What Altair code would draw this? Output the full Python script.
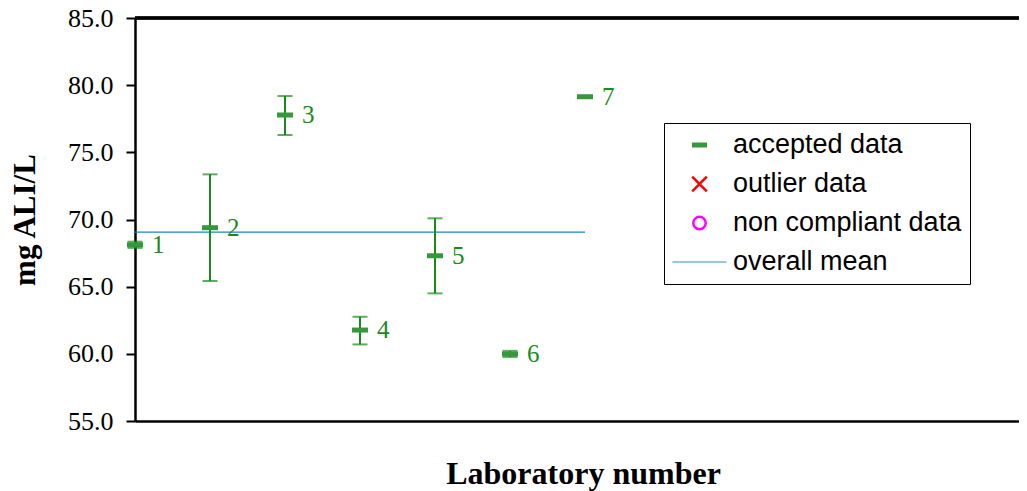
import altair as alt
import pandas as pd

# ---- data ----
labs = [1, 2, 3, 4, 5, 6, 7]
lab_names = ["1", "2", "3", "4", "5", "6", "7"]
means = [68.12, 69.39, 77.78, 61.77, 67.30, 59.99, 79.14]
lows = [67.89, 65.42, 76.29, 60.70, 64.50, 59.77, 79.14]
highs = [68.35, 73.36, 79.19, 62.76, 70.09, 60.22, 79.14]
overall_mean = 69.06
mean_from, mean_to = 1, 7
y_ticks = [55, 60, 65, 70, 75, 80, 85]
series_names = ["accepted data", "outlier data", "non compliant data", "overall mean"]

# ---- styles ----
series_colors = ["#35983a", "#ff0000", "#ff00ff", "#2a8fd0"]
bar_green = "#168c16"
text_green = "#1a8a1a"
mean_blue = "#1a86c8"
serif = "Liberation Serif"
sans = "Liberation Sans"

PLOT_W, PLOT_H = 884, 403
X_STEP = 75.0  # pixels between laboratories
x_domain = [1, 1 + PLOT_W / X_STEP]

df = pd.DataFrame({
    "lab": labs, "name": lab_names, "mean": means, "low": lows, "high": highs,
    "series": ["accepted data"] * len(labs),
})
mean_df = pd.DataFrame({"x1": [mean_from], "x2": [mean_to], "m": [overall_mean]})

x_scale = alt.Scale(domain=x_domain, nice=False, zero=False)
y_scale = alt.Scale(domain=[55, 85], nice=False, zero=False)

x_axis = alt.Axis(title="Laboratory number", labels=False, ticks=False, grid=False,
                  domainColor="black", domainWidth=2.5, titleFont=serif,
                  titleFontSize=32, titleFontWeight="bold", titleColor="black",
                  titlePadding=37, titleX=448)
y_axis = alt.Axis(title="mg ALI/L", values=y_ticks, format=".1f", grid=False,
                  domainColor="black", domainWidth=2.5, tickColor="black", tickWidth=2,
                  tickSize=9, labelPadding=13, labelFont=serif, labelFontSize=26,
                  labelColor="black", titleFont=serif, titleFontSize=31,
                  titleFontWeight="bold", titleColor="black", titlePadding=26)

shape_expr = (
    "datum.value === 'accepted data' ? 'M-0.28,0L0.28,0' : "
    "datum.value === 'outlier data' ? 'M-0.27,-0.27L0.27,0.27M-0.27,0.27L0.27,-0.27' : "
    "datum.value === 'non compliant data' ? 'M0.23,0A0.23,0.23 0 1,1 -0.23,0A0.23,0.23 0 1,1 0.23,0' : "
    "'M-1,0L1,0'"
)
width_expr = ("datum.value === 'accepted data' ? 5 : "
              "datum.value === 'overall mean' ? 1.2 : 2.5")

legend = alt.Legend(
    title=None, orient="none", legendX=529, legendY=105,
    strokeColor="black", fillColor="white", padding=8,
    symbolSize=2916, clipHeight=28, rowPadding=11,
    symbolOffset=14, labelOffset=20,
    labelFont=sans, labelFontSize=27, labelColor="black", labelLimit=400,
    symbolType=alt.ExprRef(expr=shape_expr),
    symbolStrokeWidth=alt.ExprRef(expr=width_expr),
    symbolOpacity=1,
)
color = alt.Color("series:N", scale=alt.Scale(domain=series_names, range=series_colors),
                  legend=legend)

base = alt.Chart(df)

top_line = alt.Chart(df).mark_rule(color="black", strokeWidth=2.5).encode(
    y=alt.datum(85, scale=y_scale))

mean_line = alt.Chart(mean_df).mark_rule(strokeWidth=1.2, color=mean_blue).encode(
    x=alt.X("x1:Q", scale=x_scale, axis=x_axis),
    x2="x2:Q",
    y=alt.Y("m:Q", scale=y_scale, axis=y_axis),
)

err = base.mark_rule(color=bar_green, strokeWidth=2).encode(
    x=alt.X("lab:Q", scale=x_scale), y=alt.Y("low:Q", scale=y_scale), y2="high:Q")
cap_lo = base.mark_tick(orient="horizontal", color=bar_green, size=15, thickness=2).encode(
    x=alt.X("lab:Q", scale=x_scale), y=alt.Y("low:Q", scale=y_scale))
cap_hi = base.mark_tick(orient="horizontal", color=bar_green, size=15, thickness=2).encode(
    x=alt.X("lab:Q", scale=x_scale), y=alt.Y("high:Q", scale=y_scale))
marker = base.mark_point(shape="M-1,0L1,0", size=256, strokeWidth=5, filled=False,
                         opacity=1).encode(
    x=alt.X("lab:Q", scale=x_scale), y=alt.Y("mean:Q", scale=y_scale), color=color)
labels = base.mark_text(align="left", baseline="middle", dx=17, font=serif,
                        fontSize=25, color=text_green).encode(
    x=alt.X("lab:Q", scale=x_scale), y=alt.Y("mean:Q", scale=y_scale), text="name:N")

chart = alt.layer(mean_line, top_line, err, cap_lo, cap_hi, marker, labels).properties(
    width=PLOT_W, height=PLOT_H,
    autosize=alt.AutoSizeParams(type="none"),
    padding={"left": 127, "top": 10, "right": 0, "bottom": 70},
).configure_view(stroke=None).configure(background="white")

chart.save("out.html", embed_options={"renderer": "svg", "actions": False})
